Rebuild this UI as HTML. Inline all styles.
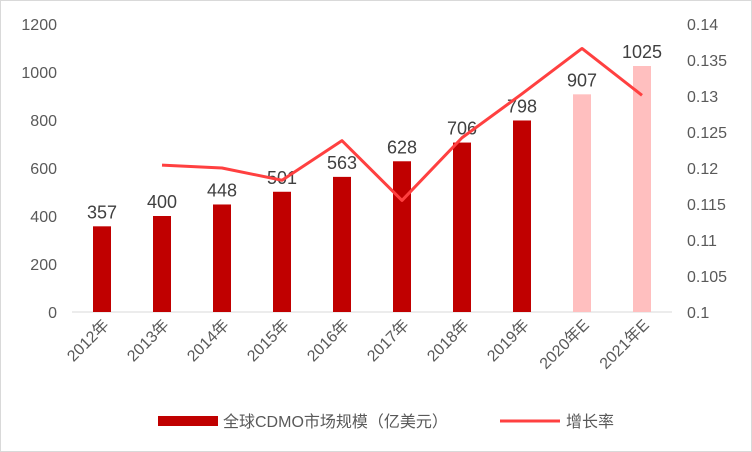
<!DOCTYPE html>
<html><head><meta charset="utf-8"><style>
body{margin:0;background:#fff}
svg{display:block;font-family:"Liberation Sans","Noto Sans CJK SC",sans-serif}
</style></head><body>
<svg id="chart" width="752" height="452">
<rect x="0.5" y="0.5" width="751" height="451" fill="#fff" stroke="#d9d9d9"/>
<g id="g"></g>
<g>
<rect x="158" y="416" width="60" height="10" fill="#c00000"/>
<text x="223" y="427" font-size="16" fill="#595959">全球CDMO市场规模（亿美元）</text>
<line x1="500" y1="421" x2="560" y2="421" stroke="#ff4040" stroke-width="3"/>
<text x="566" y="427" font-size="16" fill="#595959">增长率</text>
</g>
</svg>
<script>
const categories=["2012年","2013年","2014年","2015年","2016年","2017年","2018年","2019年","2020年E","2021年E"];
const marketSize=[357,400,448,501,563,628,706,798,907,1025];
const estimated=[false,false,false,false,false,false,false,false,true,true];
const growthRate=[null,0.1204,0.12,0.1183,0.1238,0.1155,0.1242,0.1303,0.1366,0.1301];
const leftTicks=[0,200,400,600,800,1000,1200];
const rightTicks=[0.1,0.105,0.11,0.115,0.12,0.125,0.13,0.135,0.14];
const NS="http://www.w3.org/2000/svg",g=document.getElementById('g');
const x0=72,step=60,yB=312,yT=24;
const xs=i=>x0+step*(i+0.5);
const yL=v=>yB-(v-0)/1200*(yB-yT);
const yR=v=>yB-(v-0.1)/0.04*(yB-yT);
function mk(t,a,txt){const e=document.createElementNS(NS,t);for(const k in a)e.setAttribute(k,a[k]);if(txt!=null)e.textContent=txt;g.appendChild(e);return e;}
mk('line',{x1:x0,y1:yB,x2:x0+step*categories.length,y2:yB,stroke:'#d9d9d9'});
leftTicks.forEach(v=>{const e=mk('text',{x:57,y:yL(v)+6,'text-anchor':'end','font-size':16,fill:'#595959'},v);

});
rightTicks.forEach(v=>{const e=mk('text',{x:687,y:yR(v)+6,'font-size':16,fill:'#595959'},String(+v.toFixed(3)));

});
categories.forEach((c,i)=>{
const b=mk('rect',{x:xs(i)-9,y:yL(marketSize[i]),width:18,height:yB-yL(marketSize[i]),fill:estimated[i]?'#ffbfbf':'#c00000'});


const l=mk('text',{x:xs(i),y:yL(marketSize[i])-8,'text-anchor':'middle','font-size':18,fill:'#404040'},marketSize[i]);


const t=mk('text',{x:xs(i)+8,y:yB+14,'text-anchor':'end','font-size':16,fill:'#595959',transform:`rotate(-45 ${xs(i)+8} ${yB+14})`},c);


});
let d='';growthRate.forEach((v,i)=>{if(v!=null)d+=(d?'L':'M')+xs(i)+','+yR(v);});
const p=mk('path',{d:d,fill:'none',stroke:'#ff4040','stroke-width':3,'stroke-linejoin':'round'});


</script>
</body></html>
